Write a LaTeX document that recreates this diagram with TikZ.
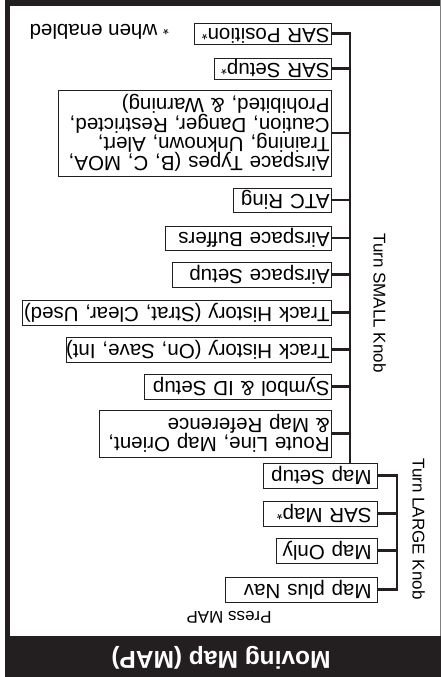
\documentclass[tikz,border=0pt]{standalone}
\usepackage{fontspec}
\setmainfont{Liberation Sans}
\definecolor{ink}{RGB}{35,31,32}
\newcommand{\bxfont}{\fontsize{20.5}{19.3}\selectfont}
\newcommand{\lblfont}{\fontsize{17}{19}\selectfont}
\newcommand{\ttlfont}{\fontsize{24.5}{26}\selectfont\bfseries}
\newcommand{\sarast}{{\fontsize{15}{15}\selectfont\raisebox{1.5pt}{*}}}
\begin{document}
\begin{tikzpicture}[x=1pt,y=-1pt,
  box/.style={draw=ink, line width=0.9pt, rotate=180, anchor=west, inner xsep=2pt, inner ysep=0pt, align=left, font=\bxfont},
  one/.style={text height=14.7pt, text depth=4.3pt},
  lbox/.style={box, one, inner xsep=6pt, minimum height=25pt},
  conn/.style={draw=ink, line width=2.3pt, line join=miter},
  lbl/.style={rotate=180, anchor=base, inner sep=0pt, font=\lblfont},
  knob/.style={rotate=-90, anchor=base, inner sep=0pt, font=\lblfont}
]
\useasboundingbox (0,0) rectangle (441,677);
% frame
\fill[ink] (5,0) rectangle (10,677);
\fill[ink] (5,0) rectangle (441,6.5);
\draw[gray, line width=1pt] (440,0) -- (440,636);
\fill[ink] (5,636) rectangle (441,677);
\node[lbl, text=white, font=\ttlfont] (title) at (221,651) {Moving Map (MAP)};
\node[lbl] (press) at (229,611.5) {Press MAP};
% large knob boxes
\node[lbox, text width=102pt] (ms) at (378,475.5) {\mbox{Map Setup}};
\node[lbox, text width=102pt] (sm) at (378,513.5) {\mbox{SAR Map\sarast}};
\node[lbox, text width=89pt] (mo) at (378,550.5) {\mbox{Map Only}};
\node[lbox, text width=140pt] (mpn) at (378,589.5) {\mbox{Map plus Nav}};
% small knob boxes
\node[box, one, text width=133pt, minimum height=21pt] (sp) at (332,33.5) {\mbox{SAR Position\sarast}};
\node[box, one, text width=113pt, minimum height=21pt] (ss) at (332,68.5) {\mbox{SAR Setup\sarast}};
\node[box, text width=269pt, minimum height=86pt] (at) at (332,133) {Airspace Types (B, C, MOA,\\Training, Unknown, Alert,\\Caution, Danger, Restricted,\\Prohibited, \& Warning)};
\node[box, one, text width=94pt, minimum height=24pt] (atc) at (332,200) {\mbox{ATC Ring}};
\node[box, one, text width=162pt, minimum height=24pt] (ab) at (332,238) {\mbox{Airspace Buffers}};
\node[box, one, text width=155pt, minimum height=25pt] (as) at (332,274.5) {\mbox{Airspace Setup}};
\node[box, one, text width=305pt, minimum height=25pt] (th2) at (332,312.5) {\mbox{Track History (Strat, Clear, Used)}};
\node[box, one, text width=261pt, minimum height=25pt] (th1) at (332,349.5) {\mbox{Track History (On, Save, Int)}};
\node[box, one, text width=183pt, minimum height=25pt] (sym) at (332,386.5) {\mbox{Symbol \& ID Setup}};
\node[box, text width=228pt, minimum height=47pt] (rl) at (332,433.5) {Route Line, Map Orient,\\\& Map Reference};
% note
\node[rotate=180, anchor=base west, inner sep=0pt, font=\bxfont] (note) at (169,25) {{\fontsize{15}{15}\selectfont *} when enabled};
% knob labels
\node[knob] (large) at (412.5,529) {Turn LARGE Knob};
\node[knob] (small) at (373.5,303) {Turn SMALL Knob};
% connectors
\coordinate (L) at (397,0);
\coordinate (S) at (350,0);
\draw[conn] (ms.west) -- (ms.west -| L) -- (mpn.west -| L) -- (mpn.west);
\draw[conn] (sm.west) -- (sm.west -| L);
\draw[conn] (mo.west) -- (mo.west -| L);
\draw[conn] (sp.west) -- (sp.west -| S) -- (ms.south -| S);
\foreach \b in {ss,at,atc,ab,as,th2,th1,sym,rl}
  \draw[conn] (\b.west) -- (\b.west -| S);
\end{tikzpicture}
\end{document}
